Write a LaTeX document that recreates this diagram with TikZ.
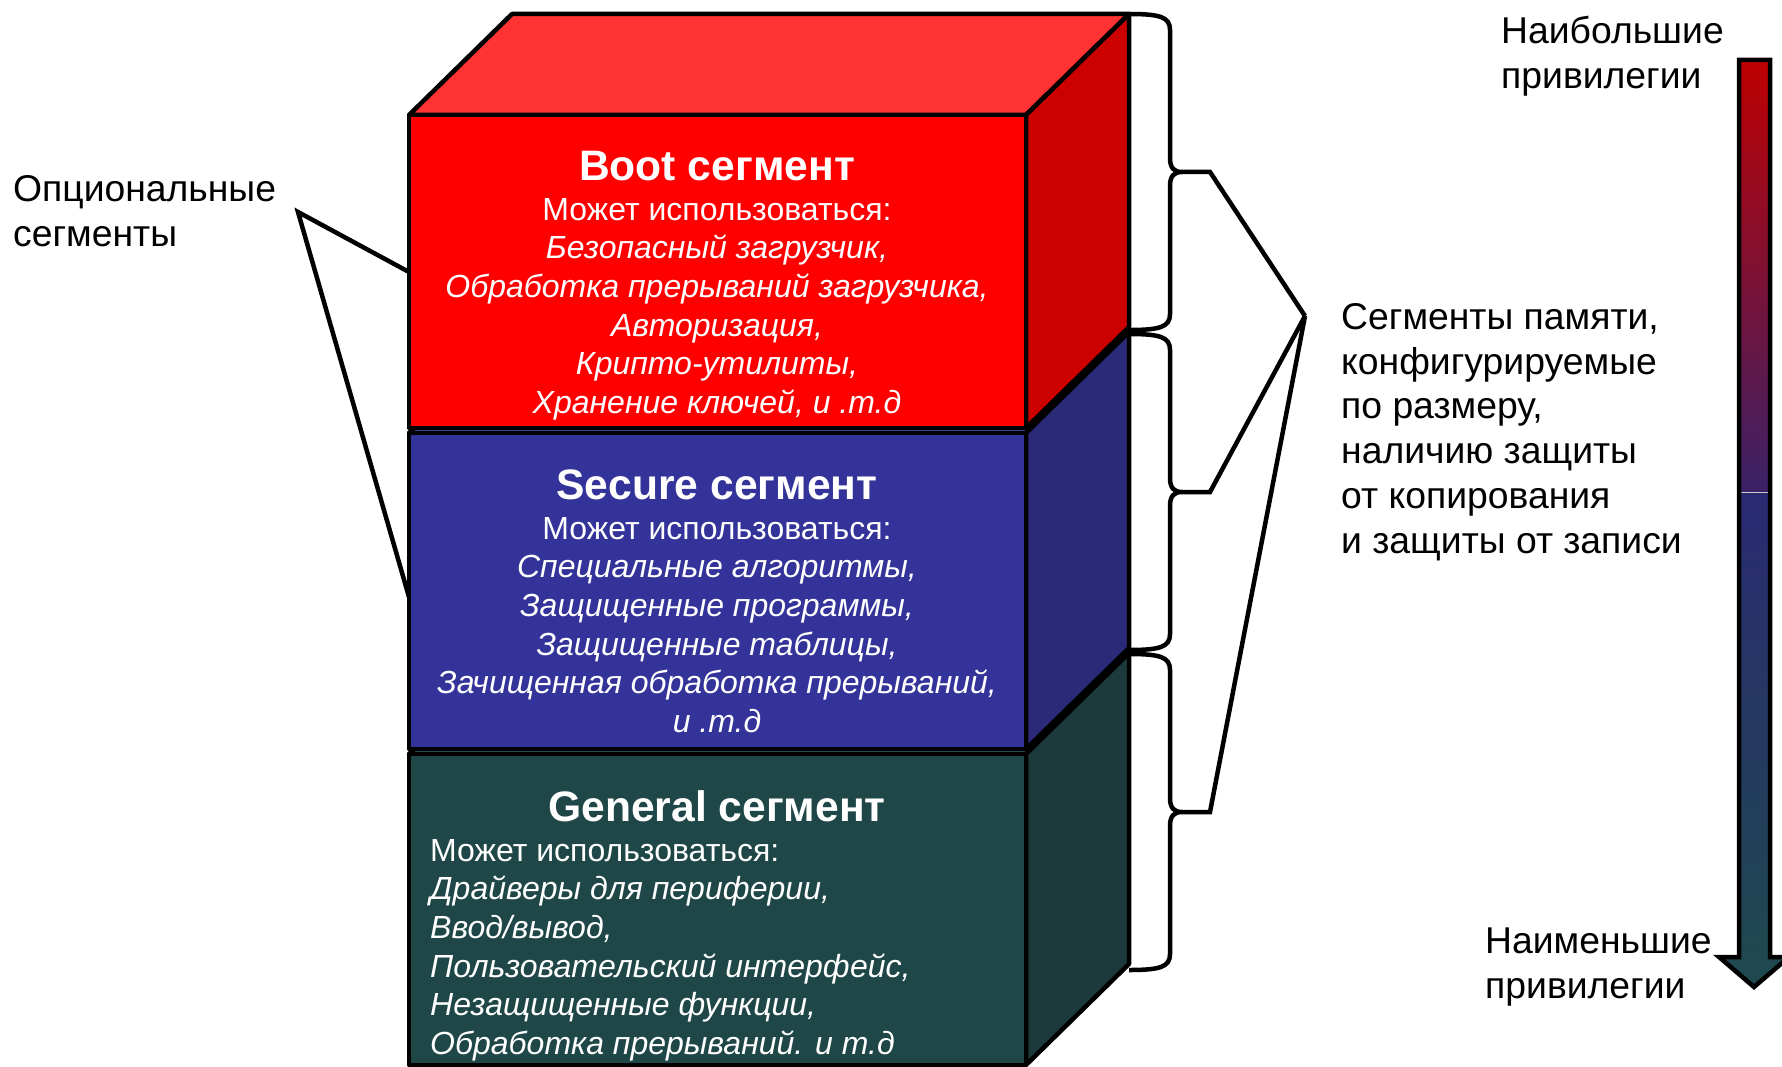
\documentclass[tikz,border=0pt]{standalone}
\usepackage{fontspec}
\setmainfont{Liberation Sans}
\definecolor{boottop}{HTML}{FF3333}
\definecolor{bootfront}{HTML}{FF0000}
\definecolor{bootside}{HTML}{CC0000}
\definecolor{sectop}{HTML}{4A4AAA}
\definecolor{secfront}{HTML}{333399}
\definecolor{secside}{HTML}{2A2A78}
\definecolor{gentop}{HTML}{2A5A5A}
\definecolor{genfront}{HTML}{1F4748}
\definecolor{genside}{HTML}{1C393B}
\definecolor{privred}{HTML}{C00000}
\definecolor{privpurple}{HTML}{3A2268}
\definecolor{privblue}{HTML}{2A2A72}
\definecolor{privteal}{HTML}{1F4A4E}
\begin{document}
\begin{tikzpicture}[x=1pt,y=-1pt,
  edge/.style={line width=4.5pt,line join=round},
  segtitle/.style={text=white,font=\fontsize{42.6}{50}\selectfont\bfseries,inner sep=0pt},
  seglist/.style={text=white,font=\fontsize{32}{38.6}\selectfont,inner sep=0pt},
  sidetext/.style={font=\fontsize{37.3}{44.8}\selectfont,align=left,inner sep=0pt}]
 \useasboundingbox (0,0) rectangle (1782,1067);
 % blocks, lowest first
 \foreach \t/\b/\cf/\ct/\cs in {754/1065/genfront/gentop/genside,
   433/749/secfront/sectop/secside, 115/428/bootfront/boottop/bootside} {
  \filldraw[edge,fill=\ct] (409,\t) -- (512,\t-101) -- (1129,\t-101) -- (1026,\t) -- cycle;
  \filldraw[edge,fill=\cs] (1026,\t) -- (1129,\t-101) -- (1129,\b-101) -- (1026,\b) -- cycle;
  \filldraw[edge,fill=\cf] (409,\t) rectangle (1026,\b);
 }
 \node[segtitle] (boottitle) at (717,166) {Boot сегмент};
 \node[seglist,align=center,anchor=north] (bootlist) at (717,198)
  {Может использоваться:\\ \textit{Безопасный загрузчик,}\\ \textit{Обработка прерываний загрузчика,}\\
   \textit{Авторизация,}\\ \textit{Крипто-утилиты,}\\ \textit{Хранение ключей, и .т.д}};
 \node[segtitle] (sectitle) at (717,485) {Secure сегмент};
 \node[seglist,align=center,anchor=north] (seclist) at (717,517)
  {Может использоваться:\\ \textit{Специальные алгоритмы,}\\ \textit{Защищенные программы,}\\
   \textit{Защищенные таблицы,}\\ \textit{Зачищенная обработка прерываний,}\\ \textit{и .т.д}};
 \node[segtitle] (gentitle) at (717,806) {General сегмент};
 \node[seglist,align=left,anchor=north west] (genlist) at (430,839)
  {Может использоваться:\\ \textit{Драйверы для периферии,}\\ \textit{Ввод/вывод,}\\
   \textit{Пользовательский интерфейс,}\\ \textit{Незащищенные функции,}\\ \textit{Обработка прерываний. и т.д}};
 % optional segments callout
 \node[sidetext,anchor=north west] (opttext) at (13,175) {Опциональные\\сегменты};
 \coordinate (optap) at (298,212);
 \coordinate (bootedge) at (409,272);
 \coordinate (secedge) at (409,597);
 \draw[edge,line join=miter] (bootedge) -- (optap) -- (secedge);
 % braces on the right
 \coordinate (memtip) at (1305,316);
 \foreach \t/\m/\b/\n in {14/172/330/1, 334/492/650/2, 654/812/970/3} {
  \draw[edge] (1129,\t) .. controls (1160,\t) and (1170,\t+3) .. (1170,\t+16)
   -- (1170,\m-14) .. controls (1170,\m-4) and (1174,\m) .. (1182,\m)
   .. controls (1174,\m) and (1170,\m+4) .. (1170,\m+14)
   -- (1170,\b-16) .. controls (1170,\b-3) and (1160,\b) .. (1129,\b);
  \coordinate (brace\n) at (1182,\m);
  \draw[edge,line join=miter] (brace\n) -- ++(28,0) -- (memtip);
 }
 \node[sidetext,anchor=north west] (memtext) at (1341,303)
  {Сегменты памяти,\\ конфигурируемые\\ по размеру,\\ наличию защиты\\ от копирования\\ и защиты от записи};
 % privilege arrow
 \begin{scope}
  \clip (1739,60) -- (1770,60) -- (1770,957) -- (1789,957) -- (1754,987) -- (1719,957) -- (1739,957) -- cycle;
  \shade[top color=privred,bottom color=privpurple] (1700,55) rectangle (1800,492);
  \shade[top color=privblue,bottom color=privteal] (1700,492) rectangle (1800,992);
 \end{scope}
 \draw[white!60!gray,line width=0.8pt] (1741,492) -- (1768,492);
 \draw[edge,line join=miter] (1739,60) -- (1770,60) -- (1770,957) -- (1789,957) -- (1754,987) -- (1719,957) -- (1739,957) -- cycle;
 \node[sidetext,anchor=north west] (hightext) at (1501,16) {Наибольшие\\ привилегии};
 \node[sidetext,anchor=north west] (lowtext) at (1485,928) {Наименьшие\\ привилегии};
\end{tikzpicture}
\end{document}
